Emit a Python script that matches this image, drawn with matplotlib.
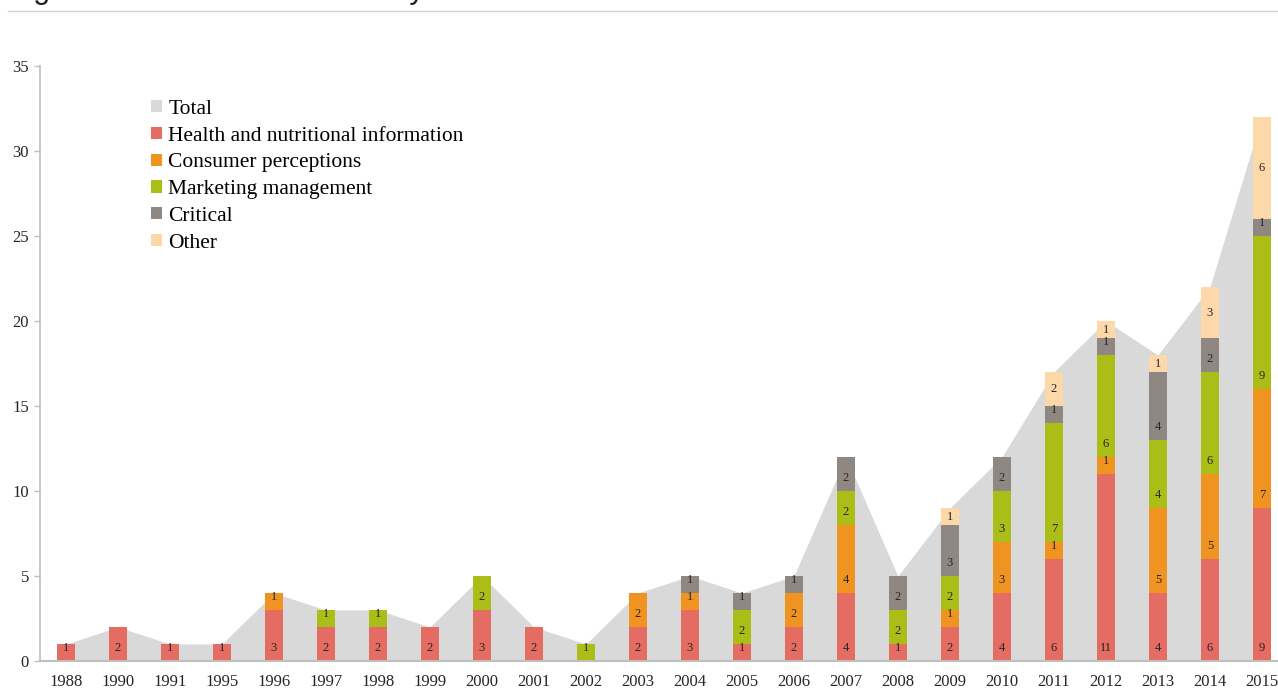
import matplotlib
matplotlib.use("Agg")
import matplotlib.pyplot as plt
from matplotlib.lines import Line2D
from matplotlib.patches import Patch
import numpy as np

years = ["1988", "1990", "1991", "1995", "1996", "1997", "1998", "1999", "2000",
         "2001", "2002", "2003", "2004", "2005", "2006", "2007", "2008", "2009",
         "2010", "2011", "2012", "2013", "2014", "2015"]
health    = [1, 2, 1, 1, 3, 2, 2, 2, 3, 2, 0, 2, 3, 1, 2, 4, 1, 2, 4, 6, 11, 4, 6, 9]
consumer  = [0, 0, 0, 0, 1, 0, 0, 0, 0, 0, 0, 2, 1, 0, 2, 4, 0, 1, 3, 1, 1, 5, 5, 7]
marketing = [0, 0, 0, 0, 0, 1, 1, 0, 2, 0, 1, 0, 0, 2, 0, 2, 2, 2, 3, 7, 6, 4, 6, 9]
critical  = [0, 0, 0, 0, 0, 0, 0, 0, 0, 0, 0, 0, 1, 1, 1, 2, 2, 3, 2, 1, 1, 4, 2, 1]
other     = [0, 0, 0, 0, 0, 0, 0, 0, 0, 0, 0, 0, 0, 0, 0, 0, 0, 1, 0, 2, 1, 1, 3, 6]
series_names = ["Health and nutritional information", "Consumer perceptions",
                "Marketing management", "Critical", "Other"]
series_vals = [health, consumer, marketing, critical, other]
colors = ["#E46C62", "#EF9421", "#ABBE18", "#8F8782", "#FDD8A9"]
total_color = "#D9D9D9"
title_text = "Figure 2 Research attention by research outcome"

W, H = 1278, 694
fig = plt.figure(figsize=(W / 100, H / 100), dpi=100)
ax = fig.add_axes([40 / W, 1 - 661 / H, 1 - 40 / W, (661 - 66) / H])

serif = "Liberation Serif"
x = np.arange(len(years))
totals = np.sum(np.array(series_vals), axis=0)

ax.fill_between(x, 0, totals, color=total_color, linewidth=0, zorder=1)

bottom = np.zeros(len(years))
bar_w = 0.336
for name, vals, col in zip(series_names, series_vals, colors):
    vals = np.array(vals, dtype=float)
    ax.bar(x, vals, bar_w, bottom=bottom, color=col, zorder=2, linewidth=0)
    for xi, v, b in zip(x, vals, bottom):
        if v <= 0:
            continue
        if name == "Other":
            ax.text(xi, b + v / 2, f"{int(v)}", ha="center", va="center",
                    fontsize=9, family=serif, color="#262626", zorder=3)
        else:
            ax.annotate(f"{int(v)}", xy=(xi, b), xytext=(0, 13),
                        textcoords="offset pixels", ha="center", va="center",
                        fontsize=9, family=serif, color="#262626", zorder=3)
    bottom += vals

ax.set_xlim(-0.5, len(years) - 1 + 0.31)
ax.set_ylim(0, 35)
ax.set_yticks(range(0, 36, 5))
ax.set_xticks(x)
ax.set_xticklabels(years)
for lab in ax.get_xticklabels() + ax.get_yticklabels():
    lab.set_family(serif)
    lab.set_fontsize(12)
    lab.set_color("#262626")
ax.tick_params(axis="x", length=0, pad=9)
ax.tick_params(axis="y", length=4, width=1, color="#BFBFBF", pad=4)
for s in ["top", "right"]:
    ax.spines[s].set_visible(False)
ax.spines["left"].set_color("#BFBFBF")
ax.spines["bottom"].set_color("#BFBFBF")
ax.spines["left"].set_linewidth(1.2)
ax.spines["bottom"].set_linewidth(1.5)
ax.spines["left"].set_zorder(4)
ax.spines["bottom"].set_zorder(4)

handles = [Patch(facecolor=total_color, edgecolor="none", label="Total")]
handles += [Patch(facecolor=c, edgecolor="none", label=n) for n, c in zip(series_names, colors)]
leg = ax.legend(handles=handles, loc="upper left", bbox_to_anchor=(151 / W, 1 - 100 / H),
                bbox_transform=fig.transFigure, frameon=False,
                prop={"family": serif, "size": 15.5}, handlelength=0.5, handleheight=0.5,
                handletextpad=0.3, labelspacing=0.36, borderpad=0, borderaxespad=0)

fig.text(8 / W, 1 + 2 / H, title_text, family="Liberation Sans", fontsize=22,
         ha="left", va="baseline", color="#222222")
fig.add_artist(Line2D([8 / W, 1], [1 - 11 / H, 1 - 11 / H], color="#D3D3D3", lw=1,
                      transform=fig.transFigure))

fig.savefig("out.png", dpi=100)
